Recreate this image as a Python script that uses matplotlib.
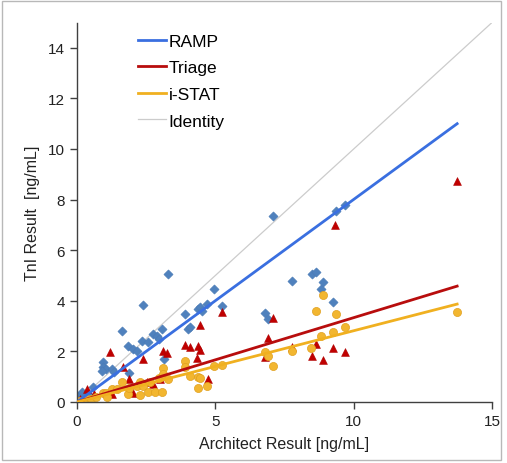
import matplotlib
matplotlib.use("Agg")
import matplotlib.pyplot as plt
from matplotlib.patches import Rectangle

plt.rcParams['font.family'] = ['Liberation Sans', 'DejaVu Sans']

# RAMP (blue diamonds)
ramp_x = [0.0, 0.05, 0.14, 0.18, 0.29, 0.4, 0.58, 0.94, 0.94, 1.05, 0.9, 1.27, 1.35, 1.63, 1.84, 1.88,
          2.03, 2.17, 2.35, 2.39, 2.57, 2.75, 2.9, 2.97, 3.07, 3.15, 3.29, 3.9, 4.0, 4.09, 4.38, 4.45,
          4.5, 4.7, 4.95, 5.24, 6.8, 6.91, 7.09, 7.78, 8.5, 8.64, 8.82, 8.9, 9.26, 9.37, 9.7]
ramp_y = [0.1, 0.2, 0.32, 0.4, 0.24, 0.3, 0.59, 1.58, 1.38, 1.3, 1.23, 1.3, 1.2, 2.8, 2.2, 1.15,
          2.1, 2.0, 2.4, 3.83, 2.37, 2.69, 2.6, 2.49, 2.88, 1.7, 5.06, 3.48, 2.88, 2.96, 3.68, 3.75,
          3.6, 3.87, 4.47, 3.8, 3.52, 3.28, 7.35, 4.78, 5.06, 5.14, 4.47, 4.74, 3.95, 7.55, 7.8]

# Triage (red triangles)
triage_x = [0.0, 0.1, 0.36, 0.6, 1.19, 1.27, 1.66, 1.88, 2.03, 2.39, 2.53, 2.75, 3.0, 3.11, 3.25,
            3.9, 4.09, 4.34, 4.38, 4.45, 4.45, 4.74, 5.24, 6.8, 6.91, 7.09, 7.78, 8.5, 8.64, 8.9,
            9.26, 9.34, 9.7, 13.74]
triage_y = [0.05, 0.1, 0.51, 0.3, 1.98, 0.32, 1.38, 0.91, 0.36, 1.7, 0.79, 0.71, 0.91, 2.02, 1.94,
            2.25, 2.17, 1.74, 2.21, 3.04, 2.05, 0.91, 3.56, 1.78, 2.53, 3.32, 2.17, 1.82, 2.29, 1.66,
            2.13, 7.0, 1.98, 8.74]

# i-STAT (orange circles)
istat_x = [0.0, 0.07, 0.2, 0.36, 0.5, 0.69, 0.94, 1.05, 1.08, 1.27, 1.45, 1.63, 1.84, 1.88, 2.17,
           2.28, 2.28, 2.39, 2.57, 2.64, 2.82, 2.97, 3.07, 3.11, 3.11, 3.29, 3.9, 3.9, 4.09, 4.38,
           4.38, 4.45, 4.7, 4.95, 5.24, 6.8, 6.91, 7.09, 7.78, 8.46, 8.64, 8.82, 8.9, 9.26, 9.37,
           9.7, 13.74]
istat_y = [0.0, 0.04, 0.05, 0.12, 0.1, 0.2, 0.36, 0.36, 0.2, 0.51, 0.51, 0.79, 0.32, 0.55, 0.63,
           0.79, 0.28, 0.63, 0.4, 0.79, 0.4, 0.95, 0.4, 1.34, 1.1, 0.91, 1.62, 1.38, 1.03, 0.99,
           0.55, 0.95, 0.63, 1.42, 1.46, 1.98, 1.82, 1.42, 2.02, 2.13, 3.6, 2.61, 4.23, 2.77, 3.48,
           2.96, 3.56]

# Regression lines: endpoints
fit_x = [0.0, 13.74]
ramp_fit = [0.0, 11.0]
triage_fit = [0.0, 4.58]
istat_fit = [0.0, 3.87]
identity = [0.0, 15.0]

W, H = 507, 464
fig = plt.figure(figsize=(W / 100, H / 100), dpi=100)
fig.patches.append(Rectangle((2 / W, 3 / H), 499 / W, 459 / H, transform=fig.transFigure,
                             fill=False, edgecolor='#b8b8b8', linewidth=1.0))
ax = fig.add_axes([77 / W, 1 - 403 / H, (492 - 77) / W, (403 - 23.5) / H])

ax.scatter(ramp_x, ramp_y, marker='D', s=22, color='#4f81bd', edgecolors='#4a7ab5', linewidths=0.4, zorder=2)
ax.scatter(triage_x, triage_y, marker='^', s=32, color='#c00000', edgecolors='#b00000', linewidths=0.4, zorder=2)
ax.scatter(istat_x, istat_y, marker='o', s=34, color='#f2b630', edgecolors='#e0a020', linewidths=0.5, zorder=2)

ax.plot(fit_x, ramp_fit, color='#3a6fe0', lw=2.0, label='RAMP', zorder=3)
ax.plot(fit_x, triage_fit, color='#b80d0d', lw=2.0, label='Triage', zorder=3)
ax.plot(fit_x, istat_fit, color='#f0b020', lw=2.0, label='i-STAT', zorder=3)
ax.plot(identity, identity, color='#cccccc', lw=0.9, label='Identity', zorder=1)

ax.set_xlim(0, 15)
ax.set_ylim(0, 15)
ax.set_xticks([0, 5, 10, 15])
ax.set_yticks([0, 2, 4, 6, 8, 10, 12, 14])
for s in ['top', 'right']:
    ax.spines[s].set_visible(False)
for s in ['left', 'bottom']:
    ax.spines[s].set_color('#404040')
    ax.spines[s].set_linewidth(1.0)
ax.tick_params(direction='out', length=5, width=1.0, color='#404040', labelsize=11, labelcolor='#222222')

ax.set_xlabel('Architect Result [ng/mL]', fontsize=11.5, color='#222222', labelpad=6)
ax.set_ylabel('TnI Result  [ng/mL]', fontsize=11.5, color='#222222', labelpad=6)

leg = ax.legend(loc='upper left', bbox_to_anchor=(0.11, 1.012), frameon=False, fontsize=12.5,
                handlelength=1.6, handletextpad=0.15, labelspacing=0.66)

fig.savefig('out.png', dpi=100)
